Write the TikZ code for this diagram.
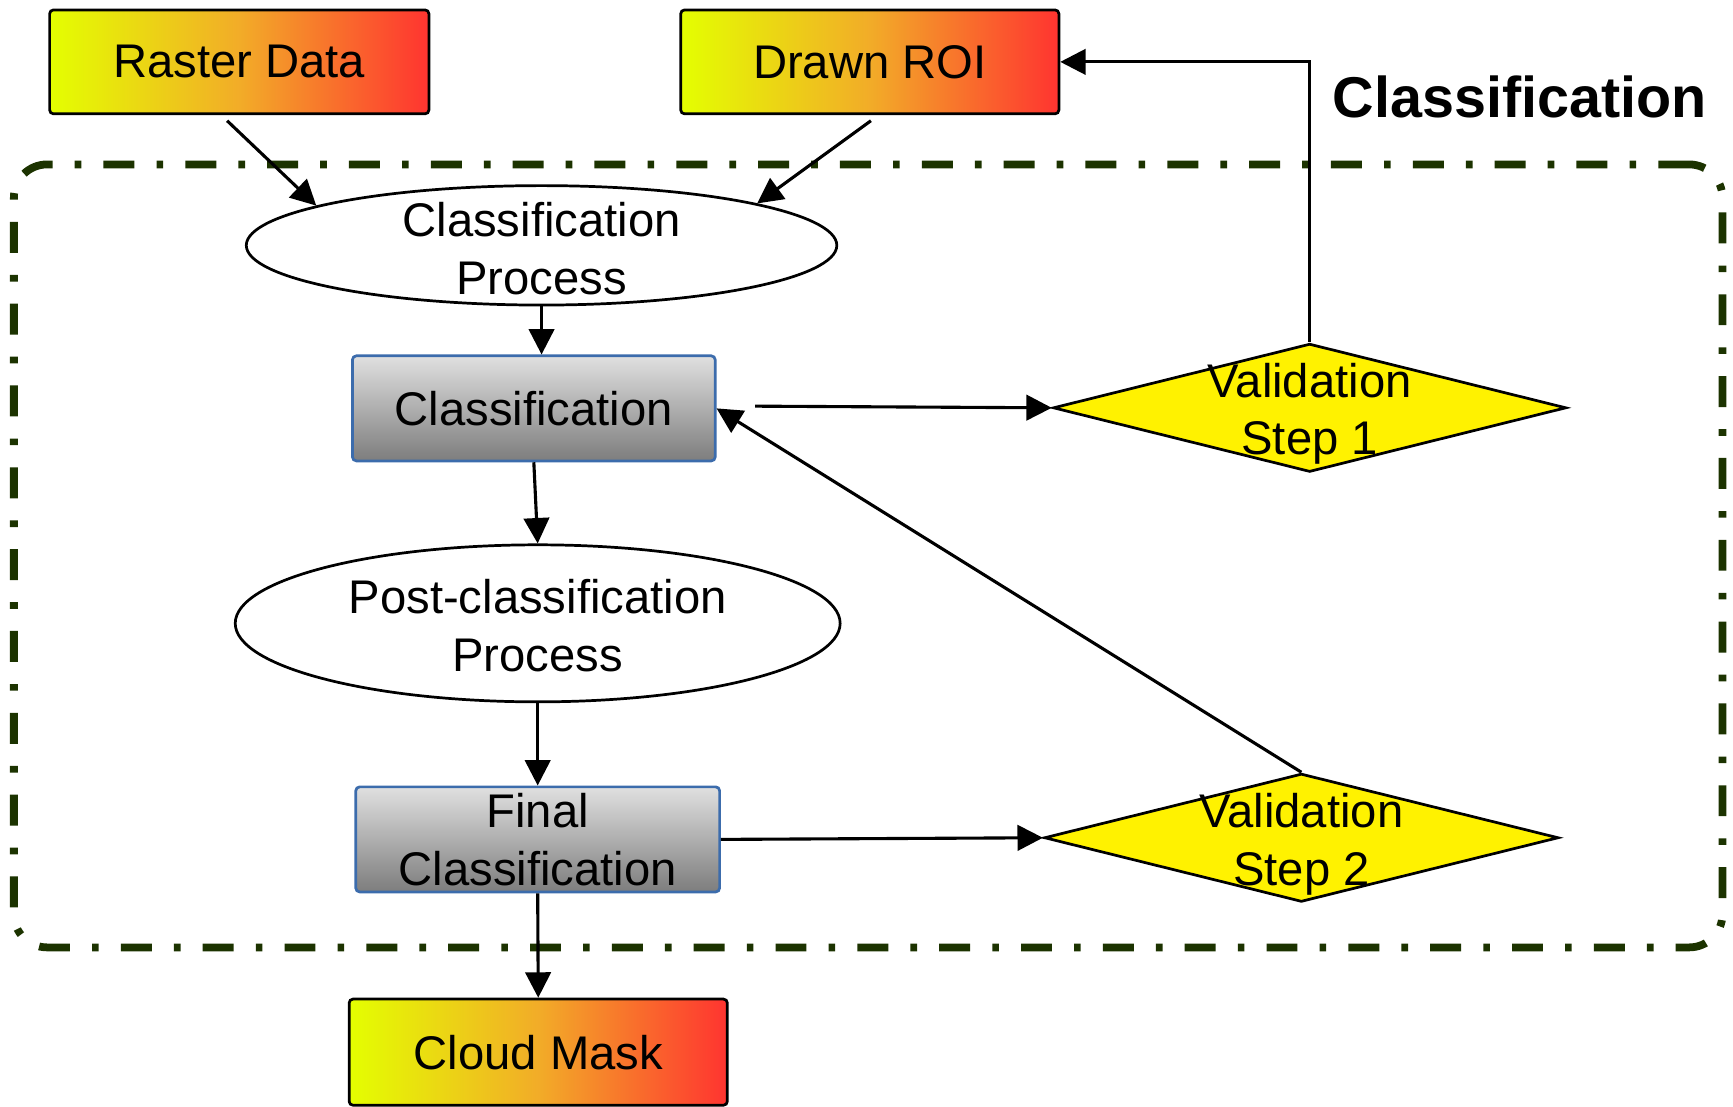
\documentclass[tikz,border=0pt]{standalone}
\usepackage{fontspec}
\setmainfont{Liberation Sans}
\usetikzlibrary{shapes.geometric,arrows.meta,calc}
\definecolor{frameg}{RGB}{28,51,0}
\definecolor{gy}{RGB}{228,255,0}
\definecolor{go}{RGB}{242,172,40}
\definecolor{gr}{RGB}{255,52,48}
\definecolor{gtop}{RGB}{224,224,224}
\definecolor{gbot}{RGB}{125,125,125}
\definecolor{bblue}{RGB}{60,108,172}
\begin{document}
\begin{tikzpicture}[x=0.01cm,y=-0.01cm,
 txt/.style={font=\fontsize{12.15}{14.8}\selectfont, align=center},
 hotbox/.style={draw=black, line width=0.7pt, rounded corners=1pt, left color=gy, right color=gr, middle color=go, inner sep=0pt, txt},
 graybox/.style={draw=bblue, line width=0.7pt, rounded corners=1pt, top color=gtop, bottom color=gbot, inner sep=0pt, txt},
 procell/.style={ellipse, draw=black, line width=0.7pt, fill=white, inner sep=0pt},
 valdia/.style={diamond, draw=black, line width=0.7pt, fill=yellow, inner sep=0pt},
 conn/.style={line width=0.8pt, -{Triangle[length=0.23cm,width=0.23cm]}},
 clsframe/.style={draw=frameg, line width=2pt, rounded corners=0.3cm, dash pattern=on 0.28cm off 0.2cm on 0.06cm off 0.2cm, inner sep=0pt},
]
\useasboundingbox (0,0) rectangle (1568,1001);

\node[clsframe, minimum width=15.45cm, minimum height=7.08cm] (frame) at (785.5,503) {};

\node[hotbox, minimum width=3.43cm, minimum height=0.94cm] (rd) at (216.5,56) {Raster Data};
\node[hotbox, minimum width=3.42cm, minimum height=0.94cm] (roi) at (787,56) {Drawn ROI};
\node[font=\fontsize{14.8}{17}\selectfont\bfseries] (title) at (1375,88) {Classification};

\node[procell, minimum width=5.34cm, minimum height=1.08cm,
  label={[txt,yshift=-0.03cm]center:Classification\\Process}] (e1) at (490,222) {};
\node[graybox, minimum width=3.28cm, minimum height=0.95cm] (cls) at (483,369.5) {Classification};
\node[procell, minimum width=5.47cm, minimum height=1.42cm,
  label={[txt,yshift=-0.02cm]center:Post-classification\\Process}] (e2) at (486.5,564) {};
\node[graybox, minimum width=3.29cm, minimum height=0.95cm] (fc) at (486.5,759.5) {Final\\Classification};
\node[hotbox, minimum width=3.42cm, minimum height=0.96cm] (cm) at (487,952) {Cloud Mask};

\node[valdia, minimum width=4.64cm, minimum height=1.16cm,
  label={[txt,yshift=-0.055cm]center:Validation\\Step 1}] (v1) at (1185,369) {};
\node[valdia, minimum width=4.65cm, minimum height=1.16cm,
  label={[txt,yshift=-0.06cm]center:Validation\\Step 2}] (v2) at (1177.5,758) {};

\draw[conn] ($(rd.south)+(-11,5)$) -- (e1.170);
\draw[conn] ($(roi.south)+(1,5)$) -- (e1.11);
\draw[conn] (e1.south) -- (e1.south |- cls.north);
\draw[conn] ($(cls.east)+(35,-2)$) -- (v1.west);
\draw[conn] (v1.north) |- (roi.east);
\draw[conn] (cls.south) -- (e2.north);
\draw[conn] (e2.south) -- (fc.north);
\draw[conn] (fc.east) -- (v2.west);
\draw[conn] (v2.north) -- (cls.east);
\draw[conn] (fc.south) -- (cm.north);
\end{tikzpicture}
\end{document}
